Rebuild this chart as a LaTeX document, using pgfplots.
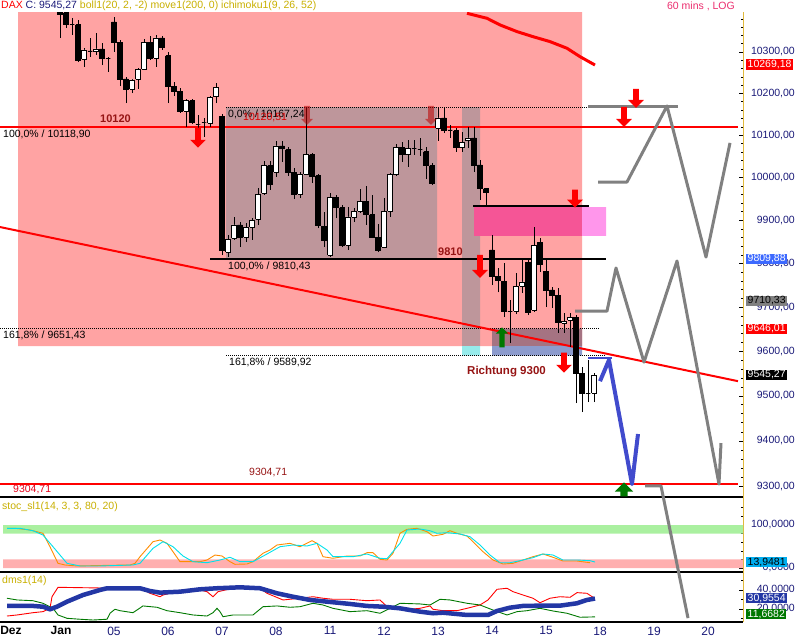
\documentclass[border=0pt]{standalone}
\usepackage{pgfplots}
\pgfplotsset{compat=1.18}
\usepackage{pgfplotstable}
\usepackage{fontspec}
\setmainfont{Liberation Sans}
\usetikzlibrary{shapes.arrows}
\newcommand\fs[1]{\fontsize{#1}{#1}\selectfont}
\definecolor{pinkbg}{RGB}{255,163,163}
\definecolor{fibgray}{RGB}{190,150,155}
\definecolor{bandcyan}{RGB}{150,235,235}
\definecolor{darkmauve}{RGB}{165,115,130}
\definecolor{bluegray}{RGB}{140,155,205}
\definecolor{hotpink}{RGB}{245,85,150}
\definecolor{lightmag}{RGB}{255,150,235}
\definecolor{zig}{RGB}{128,128,128}
\definecolor{bluepath}{RGB}{65,75,205}
\definecolor{darkred}{RGB}{150,20,20}
\definecolor{navy}{RGB}{25,25,120}
\definecolor{olive}{RGB}{200,175,0}
\definecolor{stochorange}{RGB}{255,140,0}
\definecolor{stochcyan}{RGB}{0,225,235}
\definecolor{stochgreen}{RGB}{170,240,160}
\definecolor{stochpink}{RGB}{255,175,175}
\definecolor{dmsblue}{RGB}{35,55,165}
\definecolor{dmsgreen}{RGB}{0,120,0}
\definecolor{gold}{RGB}{225,185,60}
\definecolor{tagblue}{RGB}{60,105,255}
\definecolor{titlepink}{RGB}{235,45,110}

\pgfplotstableread{
t o h l c
60 10414.6 10419.4 10334.0 10392.5
66 10395.0 10397.4 10358.4 10365.7
72 10365.7 10382.7 10341.3 10365.7
78 10365.7 10377.8 10275.8 10280.6
84 10283.0 10309.7 10263.7 10304.9
90 10302.5 10334.0 10287.9 10302.5
96 10300.1 10346.2 10292.8 10307.3
102 10307.3 10321.8 10268.5 10285.4
108 10285.4 10287.9 10251.7 10285.4
114 10372.9 10385.2 10300.1 10324.3
120 10324.3 10329.1 10217.9 10234.8
126 10234.8 10239.6 10177.2 10210.7
132 10210.7 10234.8 10201.1 10232.4
138 10234.8 10261.3 10210.7 10258.9
144 10258.9 10331.5 10256.5 10324.3
150 10324.3 10338.9 10280.6 10285.4
156 10285.4 10341.3 10263.7 10334.0
162 10334.0 10338.9 10304.9 10312.2
168 10290.3 10300.1 10177.2 10217.9
174 10217.9 10227.6 10194.0 10205.9
180 10205.9 10213.1 10153.2 10158.0
186 10158.0 10186.8 10119.8 10182.0
192 10182.0 10186.8 10127.0 10131.7
198 10127.0 10148.5 10105.6 10127.0
204 10131.7 10141.3 10096.1 10131.7
210 10129.3 10194.0 10119.8 10189.2
216 10191.6 10225.2 10177.2 10215.5
222 10146.1 10150.8 9819.6 9831.2
228 9826.6 9865.9 9815.0 9856.6
234 9859.0 9907.9 9854.4 9889.3
240 9889.3 9896.2 9838.2 9861.3
246 9861.3 9893.9 9849.8 9884.6
252 9884.6 9905.6 9854.4 9900.9
258 9903.2 9975.7 9889.3 9961.6
264 9964.0 10039.2 9959.3 10027.4
270 10027.4 10039.2 9971.0 9982.8
276 10013.3 10086.6 10001.6 10074.8
282 10074.8 10086.6 10036.9 10067.7
288 10065.3 10072.4 10003.9 10013.3
294 10013.3 10022.7 9949.9 9961.6
300 9961.6 10013.3 9952.3 10006.2
306 10008.6 10165.2 10006.2 10053.5
312 10053.5 10058.2 9987.5 10001.6
318 10003.9 10008.6 9882.3 9889.3
324 9887.0 9919.5 9838.2 9854.4
330 9819.6 9964.0 9815.0 9954.6
336 9954.6 9959.3 9905.6 9931.2
342 9928.9 9935.9 9838.2 9842.8
348 9842.8 9931.2 9831.2 9907.9
354 9907.9 9928.9 9896.2 9921.9
360 9921.9 9973.4 9917.2 9945.3
366 9945.3 9980.4 9889.3 9912.6
372 9912.6 9959.3 9859.0 9861.3
378 9861.3 9891.6 9826.6 9828.9
384 9838.2 9952.3 9835.8 9921.9
390 9921.9 10011.0 9907.9 10006.2
396 10006.2 10079.5 10003.9 10072.4
402 10072.4 10084.3 10036.9 10053.5
408 10053.5 10089.0 10025.1 10067.7
414 10067.7 10089.0 10053.5 10067.7
420 10065.3 10093.7 10051.1 10065.3
426 10060.6 10072.4 9996.9 10027.4
432 10027.4 10034.5 9982.8 9987.5
438 10117.5 10167.6 10086.6 10141.3
444 10141.3 10165.2 10105.6 10110.3
450 10112.7 10124.6 10093.7 10112.7
456 10110.3 10117.5 10060.6 10070.0
462 10070.0 10108.0 10060.6 10084.3
468 10086.6 10119.8 10070.0 10093.7
474 10093.7 10119.8 10013.3 10029.8
480 10029.8 10041.6 9947.6 9975.7
486 9973.4 9975.7 9935.9 9966.3
492 9831.2 9865.9 9750.6 9771.3
498 9771.3 9789.7 9734.6 9762.1
504 9759.8 9801.2 9677.5 9691.1
510 9691.1 9716.3 9618.5 9691.1
516 9691.1 9778.2 9684.2 9748.4
522 9748.4 9808.1 9732.3 9757.5
528 9803.5 9812.7 9682.0 9688.8
534 9693.4 9884.6 9688.8 9842.8
540 9849.8 9859.0 9780.5 9798.9
546 9782.8 9808.1 9700.3 9739.2
552 9739.2 9746.1 9698.0 9727.8
558 9727.8 9743.8 9641.1 9666.2
564 9663.9 9686.5 9641.1 9668.4
570 9670.7 9686.5 9609.5 9677.5
576 9677.5 9682.0 9483.7 9550.9
582 9550.9 9564.4 9463.6 9506.0
588 9506.0 9580.1 9485.9 9506.0
594 9506.0 9550.9 9485.9 9545.27
}\candles

\pgfplotsset{panel/.style={anchor=north west, width=743pt, scale only axis,
  xmin=0, xmax=743, axis x line*=bottom, axis y line*=right,
  x axis line style={line width=2.5pt, -}, y axis line style={draw=gold, line width=1pt, -},
  xtick=\empty, tick align=inside, major tick length=4pt, minor tick length=2pt,
  tick style={black, line width=0.6pt},
  yticklabel style={font=\fs{10.5}, text=navy, anchor=east, xshift=52pt, inner sep=0pt}},
  logprice/.style={y coord trafo/.code={\pgfmathparse{ln(##1)}},
                   y coord inv trafo/.code={\pgfmathparse{exp(##1)}}}}
\tikzset{darr/.style={single arrow, draw=none, fill=#1, inner xsep=0pt, inner ysep=2.75pt,
   text height=0pt, text depth=0pt, minimum height=20pt, single arrow head extend=5pt,
   single arrow head indent=0pt, rotate=-90, anchor=tip},
   uarr/.style={darr=#1, rotate=180}}

\begin{document}
\begin{tikzpicture}
\useasboundingbox (0pt,0pt) rectangle (796pt,-640pt);

% ---------------- stochastic panel
\begin{axis}[panel, at={(0pt,-497pt)}, height=75pt, ymin=-9.3, ymax=165.1,
  ytick={0,100}, yticklabels={{0,0000},{100,0000}}, minor ytick={20,40,60,80,120,140}]
\addplot[fill=stochgreen, draw=none] coordinates {(3,80) (743,80) (743,100) (3,100) (3,80)};
\addplot[fill=stochpink, draw=none] coordinates {(3,0) (743,0) (743,20) (3,20) (3,0)};
\addplot[stochorange, line width=0.9pt] coordinates {(7,92.3)(15,92.3)(30,88.4)(43,80.7)(50,49.5)(58,10.9)(65,7.0)(77,4.7)(110,6.3)(130,7.0)(135,10.9)(140,26.3)(153,61.2)(160,65.1)(167,57.4)(173,37.9)(180,14.7)(200,14.7)(207,18.6)(215,30.2)(222,27.9)(230,14.7)(235,8.6)(247,9.3)(253,14.7)(263,34.2)(270,41.9)(277,53.5)(290,57.4)(300,49.5)(312,63.5)(317,57.4)(323,26.3)(333,22.6)(347,27.9)(360,27.9)(367,35.6)(373,35.6)(380,20.2)(387,18.6)(393,34.2)(400,80.7)(407,90.0)(417,92.3)(427,84.4)(433,74.4)(443,78.4)(450,86.7)(457,80.7)(467,74.4)(473,61.2)(483,37.9)(493,18.6)(503,9.3)(513,10.9)(523,18.6)(533,26.3)(543,32.6)(553,24.9)(563,16.3)(577,16.3)(590,12.3)};
\addplot[stochcyan, line width=0.9pt] coordinates {(7,92.3)(20,92.3)(33,86.7)(43,76.7)(53,49.5)(67,10.9)(80,4.7)(100,4.7)(133,7.0)(140,10.9)(153,45.8)(163,61.2)(173,49.5)(183,27.9)(193,14.7)(207,12.3)(220,18.6)(230,24.9)(240,14.7)(253,14.7)(267,32.6)(280,49.5)(293,53.5)(307,51.2)(317,57.4)(327,41.9)(333,26.3)(353,26.3)(367,32.6)(380,22.6)(387,21.6)(400,57.4)(407,88.4)(420,90.7)(430,86.7)(437,80.7)(447,82.1)(460,79.1)(470,72.8)(480,53.5)(490,30.2)(500,12.3)(510,12.3)(520,17.0)(533,24.0)(543,32.6)(553,30.2)(563,18.6)(577,18.6)(590,17.0)(595,13.9)};
\end{axis}

% ---------------- DMS panel
\begin{axis}[panel, at={(0pt,-572pt)}, height=50pt, ymin=6.3, ymax=58.9,
  ytick={20,40}, yticklabels={{20,0000},{40,0000}}, minor ytick={10,30,50},
  xtick={11,61,114,168,222,276,330,384,438,492,546,600,654,708},
  xticklabels={\textbf{\textcolor{black}{Dez}},\textbf{\textcolor{black}{Jan}},05,06,07,08,11,12,13,14,15,18,19,20},
  xticklabel style={font=\fs{12}, text=navy, inner sep=2pt, yshift=-2.5pt},
  xtick style={draw=none}]
\addplot[red, line width=0.9pt] coordinates {(7,12.6)(17,13.7)(33,16.1)(43,17.2)(50,20.7)(52,32.9)(58,42.8)(100,42.1)(140,42.1)(150,36.5)(160,32.9)(163,34.7)(180,39.3)(200,40.0)(207,38.2)(213,32.9)(218,38.2)(233,41.8)(260,41.8)(267,36.5)(283,29.5)(300,31.3)(313,32.9)(323,31.3)(333,30.2)(350,30.2)(367,28.7)(380,29.5)(387,22.4)(400,20.7)(410,19.7)(420,20.7)(430,23.2)(433,19.7)(443,18.2)(457,18.2)(467,20.7)(480,24.2)(488,29.5)(497,40.7)(507,41.8)(513,38.2)(523,34.7)(533,31.3)(540,26.6)(550,31.3)(560,32.9)(570,32.3)(577,37.2)(587,36.5)(593,32.3)};
\addplot[dmsgreen, line width=0.9pt] coordinates {(7,31.3)(17,29.5)(33,28.7)(43,26.0)(53,20.7)(58,13.7)(67,10.2)(80,9.2)(93,8.4)(107,9.2)(110,15.5)(115,19.7)(120,18.2)(133,16.1)(143,23.2)(157,21.8)(167,18.2)(180,16.1)(193,13.7)(207,12.6)(213,16.1)(217,20.7)(220,17.2)(223,11.9)(233,13.7)(253,13.7)(263,22.4)(277,23.2)(290,21.8)(300,22.4)(313,26.0)(323,24.2)(333,20.7)(350,17.2)(367,18.2)(380,15.5)(390,20.7)(400,26.0)(420,25.3)(430,24.2)(440,30.2)(450,29.5)(467,26.0)(480,24.2)(493,18.9)(507,13.7)(517,17.2)(527,18.2)(540,20.7)(553,17.9)(567,15.5)(580,11.3)(595,11.7)};
\addplot[dmsblue, line width=4.5pt] coordinates {(7,23.2)(33,23.2)(43,22.4)(50,19.7)(57,22.4)(67,27.7)(83,34.7)(100,40.0)(107,41.8)(140,41.8)(150,38.9)(160,37.2)(180,38.2)(200,40.7)(217,41.8)(240,42.8)(260,41.8)(277,36.5)(293,32.9)(310,29.5)(327,27.7)(350,25.3)(367,23.2)(383,22.4)(400,20.7)(410,18.9)(420,17.2)(433,15.5)(443,16.1)(467,13.7)(488,13.7)(497,17.9)(510,21.4)(523,23.2)(540,23.5)(560,23.5)(577,26.0)(587,29.5)(595,31.0)};
\end{axis}

% ---------------- main price panel (log price scale)
\begin{axis}[panel, logprice, at={(0pt,-12pt)}, height=485pt, ymin=9276.4, ymax=10397.4,
  ytick={9300,9400,9500,9600,9700,9800,9900,10000,10100,10200,10300},
  yticklabels={{9300,00},{9400,00},{9500,00},{9600,00},{9700,00},{9800,00},{9900,00},{10000,00},{10100,00},{10200,00},{10300,00}},
  minor ytick={9320,9340,9360,9380,9420,9440,9460,9480,9520,9540,9560,9580,9620,9640,9660,9680,9720,9740,9760,9780,9820,9840,9860,9880,9920,9940,9960,9980,10020,10040,10060,10080,10120,10140,10160,10180,10220,10240,10260,10280,10320,10340,10360,10380}]
% backgrounds
\addplot[fill=pinkbg, draw=none] coordinates {(18,9611.7) (582,9611.7) (582,10420) (18,10420) (18,9611.7)};
\addplot[fill=fibgray, draw=none] coordinates {(226,9810.43) (437,9810.43) (437,10167.24) (226,10167.24) (226,9810.43)};
\addplot[fill=fibgray, draw=none] coordinates {(462,9611.7) (480,9611.7) (480,10167.24) (462,10167.24) (462,9611.7)};
\addplot[fill=bandcyan, draw=none] coordinates {(462,9589.92) (480,9589.92) (480,9611.7) (462,9611.7) (462,9589.92)};
\addplot[fill=darkmauve, draw=none] coordinates {(492,9611.7) (582,9611.7) (582,9651.43) (492,9651.43) (492,9611.7)};
\addplot[fill=bluegray, draw=none] coordinates {(492,9589.92) (582,9589.92) (582,9611.7) (492,9611.7) (492,9589.92)};
\addplot[fill=hotpink, draw=none] coordinates {(474,9863.7) (582,9863.7) (582,9931.2) (474,9931.2) (474,9863.7)};
\addplot[fill=lightmag, draw=none] coordinates {(582,9863.7) (606,9863.7) (606,9931.2) (582,9931.2) (582,9863.7)};
% dotted fib levels
\addplot[black, line width=0.6pt, dash pattern=on 1pt off 1pt] coordinates {(226,10167.24) (598,10167.24)};
\addplot[black, line width=0.6pt, dash pattern=on 1pt off 1pt] coordinates {(0,9651.43) (600,9651.43)};
\addplot[black, line width=0.6pt, dash pattern=on 1pt off 1pt] coordinates {(226,9589.92) (606,9589.92)};
% solid levels
\addplot[black, line width=1.5pt] coordinates {(210,9810.43) (606,9810.43)};
\addplot[black, line width=1.5pt] coordinates {(473,9933.6) (589,9933.6)};
\addplot[red, line width=2pt] coordinates {(0,10120) (738,10120)};
\addplot[red, line width=2pt] coordinates {(0,9304.71) (738,9304.71)};
% trend line and MA200
\addplot[red, line width=2pt] coordinates {(0,9884.6) (738,9532.9)};
\addplot[red, line width=3pt] coordinates {(467,10394.2) (487,10381.9) (500,10365.7) (517,10349.4) (533,10337.2) (550,10325.0) (567,10309.0) (580,10288.7) (595,10268.6)};
% candles
\pgfplotsforeachungrouped \i in {0,...,89}{%
  \pgfplotstablegetelem{\i}{t}\of\candles \let\ct\pgfplotsretval
  \pgfplotstablegetelem{\i}{o}\of\candles \let\co\pgfplotsretval
  \pgfplotstablegetelem{\i}{h}\of\candles \let\ch\pgfplotsretval
  \pgfplotstablegetelem{\i}{l}\of\candles \let\cl\pgfplotsretval
  \pgfplotstablegetelem{\i}{c}\of\candles \let\cc\pgfplotsretval
  \pgfmathsetmacro\xl{\ct-2.3}\pgfmathsetmacro\xr{\ct+2.3}%
  \pgfmathtruncatemacro\isw{\cc>\co ? 1 : 0}%
  \ifnum\isw=1 \def\fc{white}\else\def\fc{black}\fi
  \edef\temp{%
    \noexpand\addplot[black, line width=0.9pt] coordinates {(\ct,\cl) (\ct,\ch)};
    \noexpand\addplot[draw=black, fill=\fc, line width=0.9pt] coordinates {(\xl,\co) (\xr,\co) (\xr,\cc) (\xl,\cc) (\xl,\co)};
  }\temp
}
% projection zigzags
\addplot[zig, line width=3pt] coordinates {(588,10167.6) (678,10167.6)};
\addplot[zig, line width=3pt, line join=round] coordinates {(598,9989.8) (627,9989.8) (667,10170.0) (706,9815.0) (730,10081.9)};
\addplot[zig, line width=3pt, line join=round] coordinates {(575,9691.1) (607,9691.1) (616,9789.7) (644,9575.6) (677,9805.8) (719,9304.8) (721,9395.0)};
\addplot[bluepath, line width=2pt] coordinates {(588,9584.6) (612,9584.6)};
\addplot[bluepath, line width=4pt, line join=round] coordinates {(600,9532.9) (609,9580.1) (632,9304.8) (638,9414.8)};
% arrows
\node[darr=red] at (axis cs:198,10070.0) {};
\node[darr=red!75!black, opacity=0.55, minimum height=19pt, single arrow head extend=3pt] at (axis cs:307,10124.6) {};
\node[darr=red!75!black, opacity=0.55, minimum height=19pt, single arrow head extend=3pt] at (axis cs:431,10124.6) {};
\node[darr=red, minimum height=23pt] at (axis cs:480,9766.7) {};
\node[darr=red] at (axis cs:564,9550.9) {};
\node[darr=red, minimum height=18pt] at (axis cs:575,9928.9) {};
\node[darr=red] at (axis cs:624,10119.8) {};
\node[darr=red, minimum height=19pt] at (axis cs:636,10165.2) {};
\node[uarr=dmsgreen, inner ysep=2.5pt, single arrow head extend=3.5pt] at (axis cs:502,9654.7) {};
\node[uarr=dmsgreen, minimum height=14pt, inner ysep=3.5pt, single arrow head extend=5.5pt] at (axis cs:624,9309.2) {};
\end{axis}

% ---------------- overlay for the projection crossing the panels
\begin{axis}[logprice, at={(0pt,-12pt)}, anchor=north west, width=743pt, height=610pt, scale only axis,
  xmin=0, xmax=743, ymin=9007.4, ymax=10397.4, hide axis]
\addplot[zig, line width=3pt, line join=round] coordinates {(645,9300.4) (661,9300.4) (688,9015.8)};
\end{axis}

% ---------------- texts
\node[anchor=west, inner sep=0pt, font=\fs{10.5}] at (1pt,-6pt) {\textcolor{red}{DAX} \textcolor{navy}{C: 9545,27} \textcolor{olive}{boll1(20, 2, -2) move1(200, 0) ichimoku1(9, 26, 52)}};
\node[anchor=east, inner sep=0pt, font=\fs{10.5}, text=titlepink] at (735pt,-6pt) {60 mins , LOG};
\node[anchor=west, inner sep=0pt, font=\fs{10.5}, text=olive] at (2pt,-507pt) {stoc\_sl1(14, 3, 3, 80, 20)};
\node[anchor=west, inner sep=0pt, font=\fs{10.5}, text=olive] at (2pt,-581pt) {dms1(14)};

\begin{scope}[every node/.style={anchor=west, inner sep=0pt, font=\fs{10.5}}]
\node at (228pt,-114pt) {0,0\% / 10167,24};
\node[text=red!85!black] at (243pt,-118pt) {10120,51};
\node at (3pt,-134pt) {100,0\% / 10118,90};
\node[text=darkred, font=\bfseries\fs{11}] at (100pt,-119pt) {10120};
\node at (228pt,-266pt) {100,0\% / 9810,43};
\node[text=darkred, font=\bfseries\fs{11}] at (438pt,-252pt) {9810};
\node at (3pt,-335pt) {161,8\% / 9651,43};
\node at (229pt,-362pt) {161,8\% / 9589,92};
\node[text=darkred, font=\bfseries\fs{11.5}] at (467pt,-372pt) {Richtung 9300};
\node[text=darkred] at (249pt,-473pt) {9304,71};
\node[text=red!90!blue] at (13pt,-490pt) {9304,71};
\end{scope}

\begin{scope}[every node/.style={anchor=west, inner xsep=1.5pt, inner ysep=1pt, font=\fs{10.5}}]
\node[fill=red, text=white] at (746pt,-64.5pt) {10269,18};
\node[fill=tagblue, text=white] at (746pt,-259pt) {9809,88};
\node[fill=zig, text=black] at (746pt,-301pt) {9710,33};
\node[fill=red, text=white] at (746pt,-329pt) {9646,01};
\node[fill=black, text=white] at (746pt,-375pt) {9545,27};
\node[fill=cyan, text=black] at (746pt,-562pt) {13,9481};
\node[fill=dmsblue, text=white] at (746pt,-598pt) {30,9554};
\node[fill=dmsgreen, text=white] at (746pt,-614pt) {11,6682};
\end{scope}
\end{tikzpicture}
\end{document}
